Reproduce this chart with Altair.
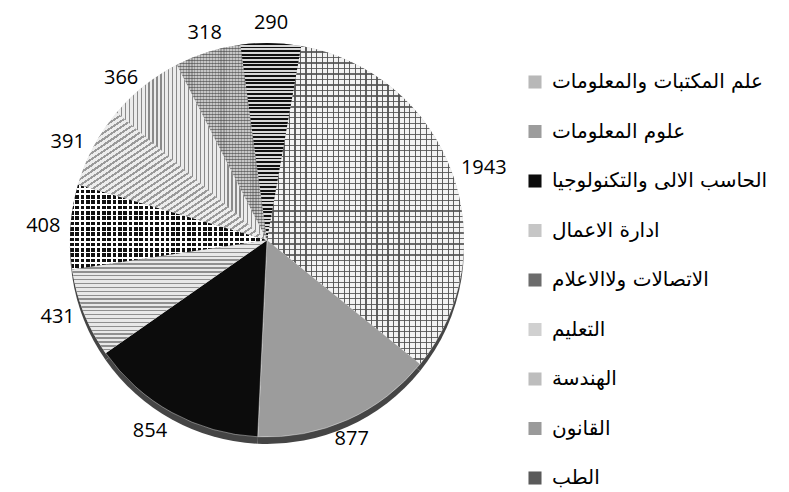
import math
import altair as alt
import pandas as pd

# ---- data ----
categories = [
    "علم المكتبات والمعلومات",
    "علوم المعلومات",
    "الحاسب الالى والتكنولوجيا",
    "ادارة الاعمال",
    "الاتصالات  ولاالاعلام",
    "التعليم",
    "الهندسة",
    "القانون",
    "الطب",
]
values = [1943, 877, 854, 431, 408, 391, 366, 318, 290]
legend_grays = ["#b8b8b8", "#9c9c9c", "#0c0c0c", "#c6c6c6", "#6c6c6c",
                "#d0d0d0", "#bdbdbd", "#9a9a9a", "#5a5a5a"]

START_DEG = 10
R = 197
total = sum(values)

df = pd.DataFrame({"cat": categories, "value": values, "order": list(range(len(values)))})

theta_scale = alt.Scale(domain=[0, total],
                        range=[math.radians(START_DEG), math.radians(START_DEG) + 2 * math.pi])


def stripes(n, frac, c_line, c_bg, kind):
    if kind == "h":      # horizontal lines
        x1, y1, x2, y2 = 0, 0, 0, 1
    elif kind == "v":    # vertical lines
        x1, y1, x2, y2 = 0, 0, 1, 0
    else:                # diagonal
        x1, y1, x2, y2 = 0, 0, 1, 1
    stops = []
    for i in range(n):
        a = round(i / n, 5)
        b = round((i + frac) / n, 5)
        c = round((i + 1) / n, 5)
        stops += [alt.GradientStop(offset=a, color=c_line),
                  alt.GradientStop(offset=b, color=c_line),
                  alt.GradientStop(offset=b, color=c_bg),
                  alt.GradientStop(offset=c, color=c_bg)]
    return alt.LinearGradient(gradient="linear", stops=stops, x1=x1, y1=y1, x2=x2, y2=y2)


CLEAR = "rgba(0,0,0,0)"
patterns = [
    (categories[0], stripes(58, 0.22, "#6a6a6a", "#f3f3f3", "h")),
    (categories[0], stripes(36, 0.22, "rgba(80,80,80,0.9)", CLEAR, "v")),
    (categories[3], stripes(29, 0.35, "#8f8f8f", "#e8e8e8", "h")),
    # dots: black base, white bands leave black only at the crossings
    (categories[4], "#111111"),
    (categories[4], stripes(16, 0.68, CLEAR, "#ffffff", "h")),
    (categories[4], stripes(37, 0.68, CLEAR, "#ffffff", "v")),
    (categories[5], stripes(42, 0.4, "#9a9a9a", "#ededed", "d")),
    (categories[6], stripes(38, 0.3, "#8a8a8a", "#ececec", "v")),
    (categories[7], stripes(65, 0.5, "#7a7a7a", "#c6c6c6", "h")),
    (categories[7], stripes(31, 0.4, "rgba(60,60,60,0.3)", CLEAR, "v")),
    (categories[8], stripes(55, 0.5, "#111111", "#d8d8d8", "h")),
]

base = alt.Chart(df).transform_window(
    ce="sum(value)", sort=[alt.SortField("order")], frame=[None, 0]
).transform_calculate(
    cs="datum.ce - datum.value",
    mid="datum.ce - datum.value / 2",
    ang=f"({START_DEG} + (datum.ce - datum.value / 2) / {total} * 360) % 360",
)

theta_enc = alt.Theta("cs:Q", scale=theta_scale)
theta2_enc = alt.Theta2("ce:Q")

W, H = 518, 458

rim = base.mark_arc(outerRadius=R, fill="#454545").encode(
    theta=theta_enc, theta2=theta2_enc,
    x=alt.value(W / 2), y=alt.value(H / 2 + 7),
)

pie = base.mark_arc(outerRadius=R, stroke="white", strokeWidth=0.4).encode(
    theta=theta_enc, theta2=theta2_enc,
    color=alt.Color(
        "cat:N",
        title=None,
        scale=alt.Scale(domain=categories, range=legend_grays),
        legend=alt.Legend(
            orient="none", legendX=517, legendY=61,
            symbolType="square", symbolSize=170, symbolStrokeWidth=0,
            labelFont="DejaVu Sans", labelFontSize=20, labelColor="#000000",
            rowPadding=29.5, labelOffset=7, padding=0, labelLimit=400,
        ),
    ),
)

pattern_layers = [
    base.transform_filter(alt.datum.cat == cat).mark_arc(outerRadius=R, fill=grad).encode(
        theta=theta_enc, theta2=theta2_enc
    )
    for cat, grad in patterns
]

labels = base.mark_text(
    radius=207, font="Open Sans", fontSize=20, color="#000000",
    align=alt.expr("(datum.ang < 25 || datum.ang > 335 || (datum.ang > 155 && datum.ang < 205)) ? 'center' : (datum.ang < 180 ? 'left' : 'right')"),
    baseline=alt.expr("(datum.ang < 35 || datum.ang > 325) ? 'bottom' : ((datum.ang > 145 && datum.ang < 215) ? 'top' : 'middle')"),
).encode(
    theta=alt.Theta("mid:Q", scale=theta_scale),
    text=alt.Text("value:Q"),
)

chart = alt.layer(rim, pie, *pattern_layers, labels).properties(
    width=W, height=H, padding={"top": 3, "left": 0, "right": 0, "bottom": 0}
).configure_view(strokeWidth=0)

chart.save("out.html", embed_options={"renderer": "svg", "actions": False})
